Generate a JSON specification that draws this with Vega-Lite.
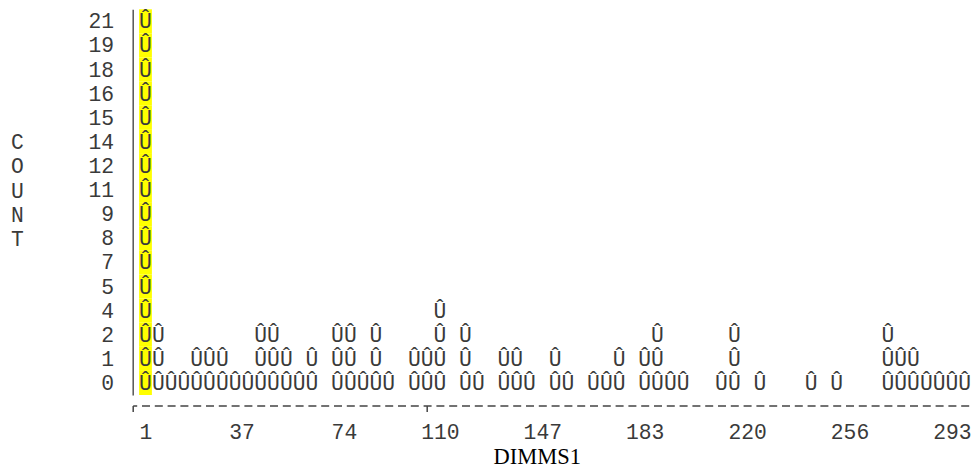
{
  "$schema": "https://vega.github.io/schema/vega-lite/v6.json",
  "autosize": "none",
  "width": 838.4,
  "height": 385.7,
  "padding": {"left": 132.7, "top": 9.3, "right": 0, "bottom": 75},
  "background": "white",
  "config": {"view": {"stroke": null}},
  "data": {"values": [
    {"DIMMS1": 1, "COUNT": "0"}, {"DIMMS1": 1, "COUNT": "1"}, {"DIMMS1": 1, "COUNT": "2"}, {"DIMMS1": 1, "COUNT": "4"},
    {"DIMMS1": 1, "COUNT": "5"}, {"DIMMS1": 1, "COUNT": "7"}, {"DIMMS1": 1, "COUNT": "8"}, {"DIMMS1": 1, "COUNT": "9"},
    {"DIMMS1": 1, "COUNT": "11"}, {"DIMMS1": 1, "COUNT": "12"}, {"DIMMS1": 1, "COUNT": "14"}, {"DIMMS1": 1, "COUNT": "15"},
    {"DIMMS1": 1, "COUNT": "16"}, {"DIMMS1": 1, "COUNT": "18"}, {"DIMMS1": 1, "COUNT": "19"}, {"DIMMS1": 1, "COUNT": "21"},
    {"DIMMS1": 5.5625, "COUNT": "0"}, {"DIMMS1": 5.5625, "COUNT": "1"}, {"DIMMS1": 5.5625, "COUNT": "2"},
    {"DIMMS1": 10.125, "COUNT": "0"},
    {"DIMMS1": 14.6875, "COUNT": "0"},
    {"DIMMS1": 19.25, "COUNT": "0"}, {"DIMMS1": 19.25, "COUNT": "1"},
    {"DIMMS1": 23.8125, "COUNT": "0"}, {"DIMMS1": 23.8125, "COUNT": "1"},
    {"DIMMS1": 28.375, "COUNT": "0"}, {"DIMMS1": 28.375, "COUNT": "1"},
    {"DIMMS1": 32.9375, "COUNT": "0"},
    {"DIMMS1": 37.5, "COUNT": "0"},
    {"DIMMS1": 42.0625, "COUNT": "0"}, {"DIMMS1": 42.0625, "COUNT": "1"}, {"DIMMS1": 42.0625, "COUNT": "2"},
    {"DIMMS1": 46.625, "COUNT": "0"}, {"DIMMS1": 46.625, "COUNT": "1"}, {"DIMMS1": 46.625, "COUNT": "2"},
    {"DIMMS1": 51.1875, "COUNT": "0"}, {"DIMMS1": 51.1875, "COUNT": "1"},
    {"DIMMS1": 55.75, "COUNT": "0"},
    {"DIMMS1": 60.3125, "COUNT": "0"}, {"DIMMS1": 60.3125, "COUNT": "1"},
    {"DIMMS1": 69.4375, "COUNT": "0"}, {"DIMMS1": 69.4375, "COUNT": "1"}, {"DIMMS1": 69.4375, "COUNT": "2"},
    {"DIMMS1": 74, "COUNT": "0"}, {"DIMMS1": 74, "COUNT": "1"}, {"DIMMS1": 74, "COUNT": "2"},
    {"DIMMS1": 78.5625, "COUNT": "0"},
    {"DIMMS1": 83.125, "COUNT": "0"}, {"DIMMS1": 83.125, "COUNT": "1"}, {"DIMMS1": 83.125, "COUNT": "2"},
    {"DIMMS1": 87.6875, "COUNT": "0"},
    {"DIMMS1": 96.8125, "COUNT": "0"}, {"DIMMS1": 96.8125, "COUNT": "1"},
    {"DIMMS1": 101.375, "COUNT": "0"}, {"DIMMS1": 101.375, "COUNT": "1"},
    {"DIMMS1": 105.9375, "COUNT": "0"}, {"DIMMS1": 105.9375, "COUNT": "1"}, {"DIMMS1": 105.9375, "COUNT": "2"}, {"DIMMS1": 105.9375, "COUNT": "4"},
    {"DIMMS1": 115.0625, "COUNT": "0"}, {"DIMMS1": 115.0625, "COUNT": "1"}, {"DIMMS1": 115.0625, "COUNT": "2"},
    {"DIMMS1": 119.625, "COUNT": "0"},
    {"DIMMS1": 128.75, "COUNT": "0"}, {"DIMMS1": 128.75, "COUNT": "1"},
    {"DIMMS1": 133.3125, "COUNT": "0"}, {"DIMMS1": 133.3125, "COUNT": "1"},
    {"DIMMS1": 137.875, "COUNT": "0"},
    {"DIMMS1": 147, "COUNT": "0"}, {"DIMMS1": 147, "COUNT": "1"},
    {"DIMMS1": 151.5625, "COUNT": "0"},
    {"DIMMS1": 160.6875, "COUNT": "0"},
    {"DIMMS1": 165.25, "COUNT": "0"},
    {"DIMMS1": 169.8125, "COUNT": "0"}, {"DIMMS1": 169.8125, "COUNT": "1"},
    {"DIMMS1": 178.9375, "COUNT": "0"}, {"DIMMS1": 178.9375, "COUNT": "1"},
    {"DIMMS1": 183.5, "COUNT": "0"}, {"DIMMS1": 183.5, "COUNT": "1"}, {"DIMMS1": 183.5, "COUNT": "2"},
    {"DIMMS1": 188.0625, "COUNT": "0"},
    {"DIMMS1": 192.625, "COUNT": "0"},
    {"DIMMS1": 206.3125, "COUNT": "0"},
    {"DIMMS1": 210.875, "COUNT": "0"}, {"DIMMS1": 210.875, "COUNT": "1"}, {"DIMMS1": 210.875, "COUNT": "2"},
    {"DIMMS1": 220, "COUNT": "0"},
    {"DIMMS1": 238.25, "COUNT": "0"},
    {"DIMMS1": 247.375, "COUNT": "0"},
    {"DIMMS1": 265.625, "COUNT": "0"}, {"DIMMS1": 265.625, "COUNT": "1"}, {"DIMMS1": 265.625, "COUNT": "2"},
    {"DIMMS1": 270.1875, "COUNT": "0"}, {"DIMMS1": 270.1875, "COUNT": "1"},
    {"DIMMS1": 274.75, "COUNT": "0"}, {"DIMMS1": 274.75, "COUNT": "1"},
    {"DIMMS1": 279.3125, "COUNT": "0"},
    {"DIMMS1": 283.875, "COUNT": "0"},
    {"DIMMS1": 288.4375, "COUNT": "0"},
    {"DIMMS1": 293, "COUNT": "0"}
  ]},
  "encoding": {
    "x": {
      "field": "DIMMS1", "type": "quantitative",
      "scale": {"domain": [-3.5625, 295.28125], "nice": false, "zero": false},
      "axis": {
        "values": [-3.5625, 1, 37.5, 74, 101.375, 110.5, 147, 183.5, 220, 256.5, 293],
        "labelExpr": "(datum.value == -3.5625 || datum.value == 101.375) ? '' : '' + floor(datum.value)",
        "labelAlign": "right", "labelOffset": 6.4, "labelBaseline": "alphabetic",
        "labelPadding": 27, "labelFlush": false, "labelOverlap": false, "labelBound": false,
        "labelFont": "Liberation Mono", "labelFontSize": 21.33, "labelColor": "#3a3a3a",
        "tickSize": 6, "tickColor": "#444", "tickWidth": 1.5,
        "tickOpacity": {"condition": {"test": "datum.value == -3.5625 || datum.value == 101.375", "value": 1}, "value": 0},
        "offset": 10.5, "grid": false,
        "domainColor": "#444", "domainWidth": 1.5, "domainDash": [8, 4.8], "domainDashOffset": 4,
        "title": "DIMMS1", "titleFont": "Liberation Serif", "titleFontSize": 22.5, "titleFontWeight": "normal",
        "titleColor": "#000", "titleAnchor": "start", "titleAlign": "center", "titleBaseline": "alphabetic",
        "titleX": 404, "titleY": 58
      }
    },
    "y": {
      "field": "COUNT", "type": "ordinal",
      "scale": {"type": "band", "domain": ["21","19","18","16","15","14","12","11","9","8","7","5","4","2","1","0"], "paddingInner": 0, "paddingOuter": 0},
      "axis": {
        "ticks": false, "tickSize": 0, "labelPadding": 19.2, "labelAlign": "right", "labelBaseline": "alphabetic", "labelOffset": 7,
        "labelFont": "Liberation Mono", "labelFontSize": 21.33, "labelColor": "#3a3a3a",
        "domainColor": "#555", "domainWidth": 1.5, "grid": false,
        "title": ["C", "O", "U", "N", "T"], "titleAngle": 0, "titleAlign": "center", "titleBaseline": "alphabetic",
        "titleX": -115.7, "titleY": 139.6, "titleLineHeight": 24.1,
        "titleFont": "Liberation Mono", "titleFontSize": 21.33, "titleFontWeight": "normal", "titleColor": "#3a3a3a"
      }
    }
  },
  "layer": [
    {
      "transform": [{"filter": "datum.DIMMS1 == 1"}],
      "mark": {"type": "rect", "width": 12.8, "color": "#ffff00"}
    },
    {
      "mark": {"type": "text", "text": "Û", "font": "Liberation Mono", "fontSize": 21.33, "color": "#3a3a3a", "align": "center", "baseline": "alphabetic", "dy": 7}
    }
  ]
}
